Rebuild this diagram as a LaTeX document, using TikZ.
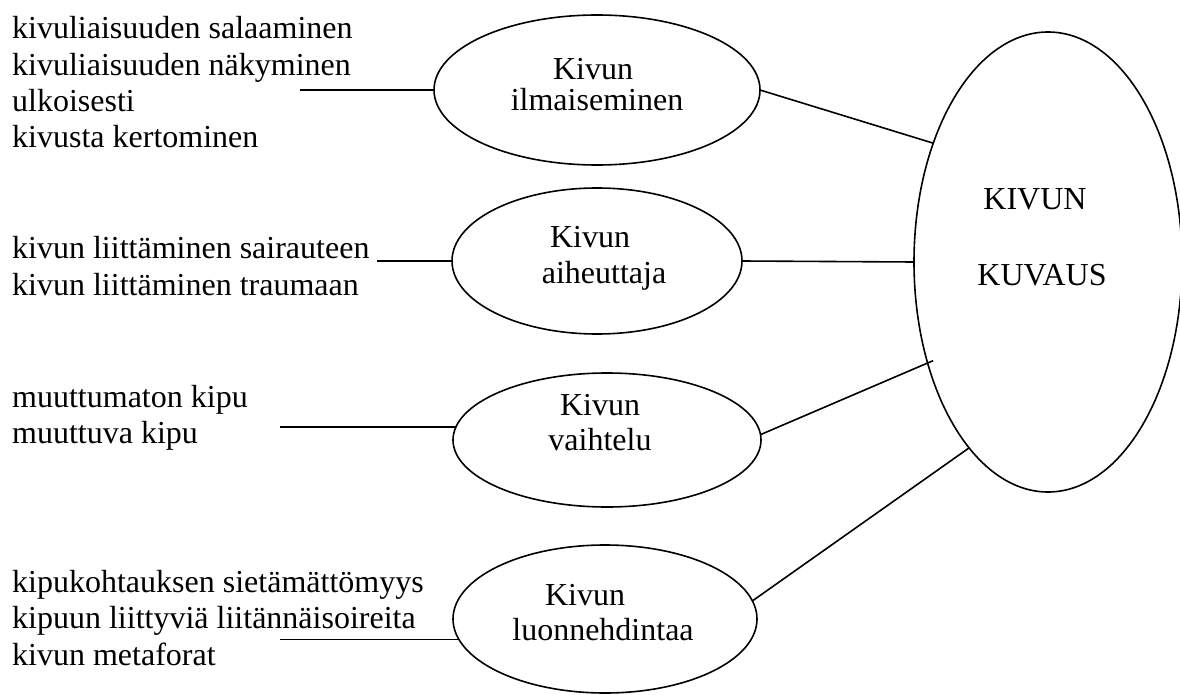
\documentclass[tikz,border=0pt]{standalone}
\usepackage{fontspec}
\setmainfont{Liberation Serif}
\usetikzlibrary{shapes.geometric}
\begin{document}
\begin{tikzpicture}[x=1pt,y=-1pt,
  bubble/.style={draw, line width=1.6pt, ellipse, inner sep=0pt, outer sep=0pt},
  lab/.style={anchor=base west, inner sep=0pt, font=\fontsize{32}{36}\selectfont},
  mid/.style={anchor=base, inner sep=0pt, font=\fontsize{32}{36}\selectfont},
  link/.style={line width=1.6pt}]
\useasboundingbox (0,0) rectangle (1180,695);
\fill[white] (0,0) rectangle (1180,695);

% central concept
\node[bubble, minimum width=268, minimum height=460] (big) at (1048,262) {};
\node[mid] (bigA) at (1035,210) {KIVUN};
\node[mid] (bigB) at (1042,285) {KUVAUS};

% four sub-concepts
\node[bubble, minimum width=326, minimum height=150] (e1) at (597,90) {};
\node[mid] (e1a) at (593,80) {Kivun};
\node[mid] (e1b) at (597,111) {ilmaiseminen};

\node[bubble, minimum width=290, minimum height=146] (e2) at (597,261) {};
\node[mid] (e2a) at (590,247) {Kivun};
\node[mid] (e2b) at (604,283) {aiheuttaja};

\node[bubble, minimum width=308, minimum height=134] (e3) at (607,440) {};
\node[mid] (e3a) at (600,415) {Kivun};
\node[mid] (e3b) at (600,450) {vaihtelu};

\node[bubble, minimum width=304, minimum height=148] (e4) at (605,619) {};
\node[mid] (e4a) at (585,605) {Kivun};
\node[mid] (e4b) at (603,640) {luonnehdintaa};

% category lists
\node[lab] (t1a) at (12,39)  {kivuliaisuuden salaaminen};
\node[lab] (t1b) at (12,76)  {kivuliaisuuden näkyminen};
\node[lab] (t1c) at (12,112) {ulkoisesti};
\node[lab] (t1d) at (12,148) {kivusta kertominen};

\node[lab] (t2a) at (12,258) {kivun liittäminen sairauteen};
\node[lab] (t2b) at (12,295) {kivun liittäminen traumaan};

\node[lab] (t3a) at (12,407) {muuttumaton kipu};
\node[lab] (t3b) at (12,443) {muuttuva kipu};

\node[lab] (t4a) at (12,592) {kipukohtauksen sietämättömyys};
\node[lab] (t4b) at (12,628) {kipuun liittyviä liitännäisoireita};
\node[lab] (t4c) at (12,665) {kivun metaforat};

% free ends of the list lines
\coordinate (f1) at (300,0);
\coordinate (f2) at (377,0);
\coordinate (f3) at (280,0);
\coordinate (f4) at (280,0);

% lists to sub-concepts
\draw[link] (e1.west) -- (e1.west -| f1);
\draw[link] (e2.west) -- (e2.west -| f2);
\draw[link] (e3.175) -- (e3.175 -| f3);
\draw[link] (e4.188) -- (e4.188 -| f4);

% sub-concepts to central concept
\draw[link] (e1.east) -- (big.134.8);
\draw[link] (e2.east) -- (big.west);
\draw[link, shorten >=-6pt] (e3.2) -- (big.220);
\draw[link] (e4.7) -- (big.247.7);
\end{tikzpicture}
\end{document}
